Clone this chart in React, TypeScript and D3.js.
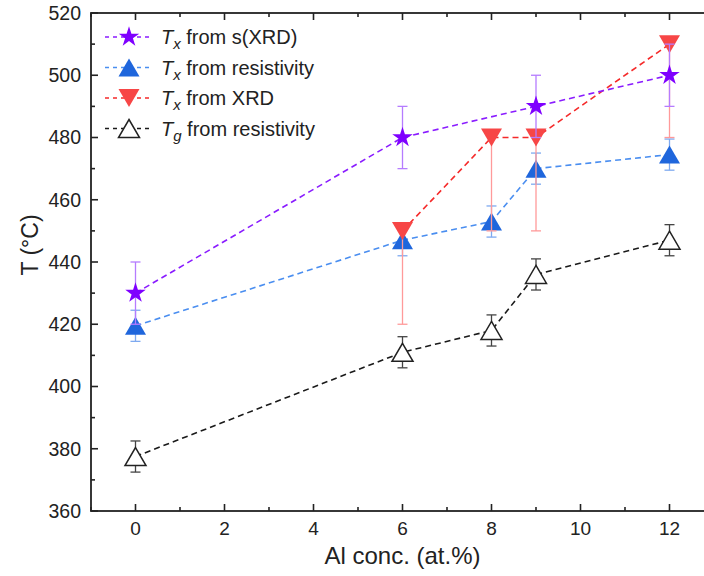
import React from "react";
import * as d3 from "d3";

const sxrdX = [0, 6, 9, 12];
const sxrdY = [430, 480, 490, 500];
const sxrdErr = [10, 10, 10, 10];

const resX = [0, 6, 8, 9, 12];
const resY = [419.5, 447, 453, 470, 474.5];
const resErr = [5, 5, 5, 5, 5];

const xrdX = [6, 8, 9, 12];
const xrdY = [450, 480, 480, 510];
const xrdErrMinus = [30, 30, 30, 30];

const tgX = [0, 6, 8, 9, 12];
const tgY = [377.5, 411, 418, 436, 447];
const tgErr = [5, 5, 5, 5, 5];

const xTicks = [0, 2, 4, 6, 8, 10, 12];
const yTicks = [360, 380, 400, 420, 440, 460, 480, 500, 520];

const W = 704, H = 576;
const L = 91, R = 714, T = 13, B = 511;

const x = d3.scaleLinear().domain([-1, 13]).range([L, R]);
const y = d3.scaleLinear().domain([360, 520]).range([B, T]);

const FONT = "Arial, 'Liberation Sans', Helvetica, sans-serif";

function triPath(up: boolean, w = 21, h = 18) {
  if (up) return `M0,${-h / 2}L${w / 2},${h / 2}L${-w / 2},${h / 2}Z`;
  return `M0,${h / 2}L${w / 2},${-h / 2}L${-w / 2},${-h / 2}Z`;
}
const starPath = d3.symbol().type(d3.symbolStar).size(130)() as string;

type Series = {
  xs: number[];
  ys: number[];
  lo: number[];
  hi: number[];
  line: string;
  bar: string;
  marker: string;
  fill: string;
  stroke: string;
};

const series: Record<string, Series> = {
  tg: { xs: tgX, ys: tgY, lo: tgErr, hi: tgErr, line: "#1a1a1a", bar: "#444", marker: triPath(true), fill: "#fff", stroke: "#222" },
  res: { xs: resX, ys: resY, lo: resErr, hi: resErr, line: "#4a8ef0", bar: "#7eaaf0", marker: triPath(true), fill: "#1f66dc", stroke: "none" },
  xrd: { xs: xrdX, ys: xrdY, lo: xrdErrMinus, hi: xrdX.map(() => 0), line: "#f52a2a", bar: "#ff9a9a", marker: triPath(false), fill: "#f74646", stroke: "none" },
  sxrd: { xs: sxrdX, ys: sxrdY, lo: sxrdErr, hi: sxrdErr, line: "#8a1cff", bar: "#b57cff", marker: starPath, fill: "#7f00ff", stroke: "none" },
};

const order = ["tg", "res", "xrd", "sxrd"];

const line = d3.line<[number, number]>().x(d => x(d[0])).y(d => y(d[1]));

function SeriesG({ s }: { s: Series }) {
  const pts = s.xs.map((v, i) => [v, s.ys[i]] as [number, number]);
  return (
    <g>
      <path d={line(pts) as string} fill="none" stroke={s.line} strokeWidth={1.6} strokeDasharray="6,4" />
      {pts.map((p, i) => {
        const cx = x(p[0]);
        const y1 = y(p[1] + s.hi[i]);
        const y2 = y(p[1] - s.lo[i]);
        return (
          <g key={"e" + i} stroke={s.bar} strokeWidth={1.3}>
            <line x1={cx} x2={cx} y1={y1} y2={y2} />
            {s.hi[i] > 0 && <line x1={cx - 5} x2={cx + 5} y1={y1} y2={y1} />}
            <line x1={cx - 5} x2={cx + 5} y1={y2} y2={y2} />
          </g>
        );
      })}
      {pts.map((p, i) => (
        <path key={"m" + i} d={s.marker} transform={`translate(${x(p[0])},${y(p[1])})`} fill={s.fill} stroke={s.stroke} strokeWidth={1.5} />
      ))}
    </g>
  );
}

const legendItems = [
  { key: "sxrd", sub: "x", label: " from s(XRD)" },
  { key: "res", sub: "x", label: " from resistivity" },
  { key: "xrd", sub: "x", label: " from XRD" },
  { key: "tg", sub: "g", label: " from resistivity" },
];

export default function App() {
  const xMinor = d3.range(-1, 14, 1);
  const yMinor = d3.range(360, 521, 10);
  return (
    <svg width={W} height={H} style={{ position: "absolute", left: 0, top: 0, background: "#fff" }} fontFamily={FONT}>
      <rect width={W} height={H} fill="#fff" />
      {order.map(k => <SeriesG key={k} s={series[k]} />)}
      <rect x={L} y={T} width={R - L} height={B - T} fill="none" stroke="#222" strokeWidth={1.8} />
      {xMinor.map(v => {
        const major = v % 2 === 0;
        const len = major ? 7 : 4;
        return (
          <g key={"xt" + v} stroke="#222" strokeWidth={1.6}>
            <line x1={x(v)} x2={x(v)} y1={B} y2={B - len} />
            <line x1={x(v)} x2={x(v)} y1={T} y2={T + len} />
          </g>
        );
      })}
      {yMinor.map(v => {
        const major = v % 20 === 0;
        const len = major ? 7 : 4;
        return (
          <g key={"yt" + v} stroke="#222" strokeWidth={1.6}>
            <line x1={L} x2={L + len} y1={y(v)} y2={y(v)} />
            <line x1={R} x2={R - len} y1={y(v)} y2={y(v)} />
          </g>
        );
      })}
      {xTicks.map(v => (
        <text key={"xl" + v} x={x(v)} y={B + 24} textAnchor="middle" fontSize={19} fill="#222">{v}</text>
      ))}
      {yTicks.map(v => (
        <text key={"yl" + v} x={L - 10} y={y(v)} dy="0.35em" textAnchor="end" fontSize={19.5} fill="#222">{v}</text>
      ))}
      <text x={x(6)} y={564} textAnchor="middle" fontSize={24} fill="#222">Al conc. (at.%)</text>
      <text transform={`translate(38,245) rotate(-90)`} textAnchor="middle" fontSize={23} fill="#222">T (°C)</text>
      {legendItems.map((it, i) => {
        const s = series[it.key];
        const cy = 37 + i * 30.5;
        return (
          <g key={"lg" + i}>
            <line x1={105} x2={152} y1={cy} y2={cy} stroke={s.line} strokeWidth={1.6} strokeDasharray="4,4" />
            <path d={s.marker} transform={`translate(129,${cy})`} fill={s.fill} stroke={s.stroke} strokeWidth={1.5} />
            <text x={161} y={cy + 7} fontSize={20} fill="#222">
              <tspan fontStyle="italic">T</tspan>
              <tspan fontStyle="italic" fontSize={15} dy={5}>{it.sub}</tspan>
              <tspan dy={-5}>{it.label}</tspan>
            </text>
          </g>
        );
      })}
    </svg>
  );
}
